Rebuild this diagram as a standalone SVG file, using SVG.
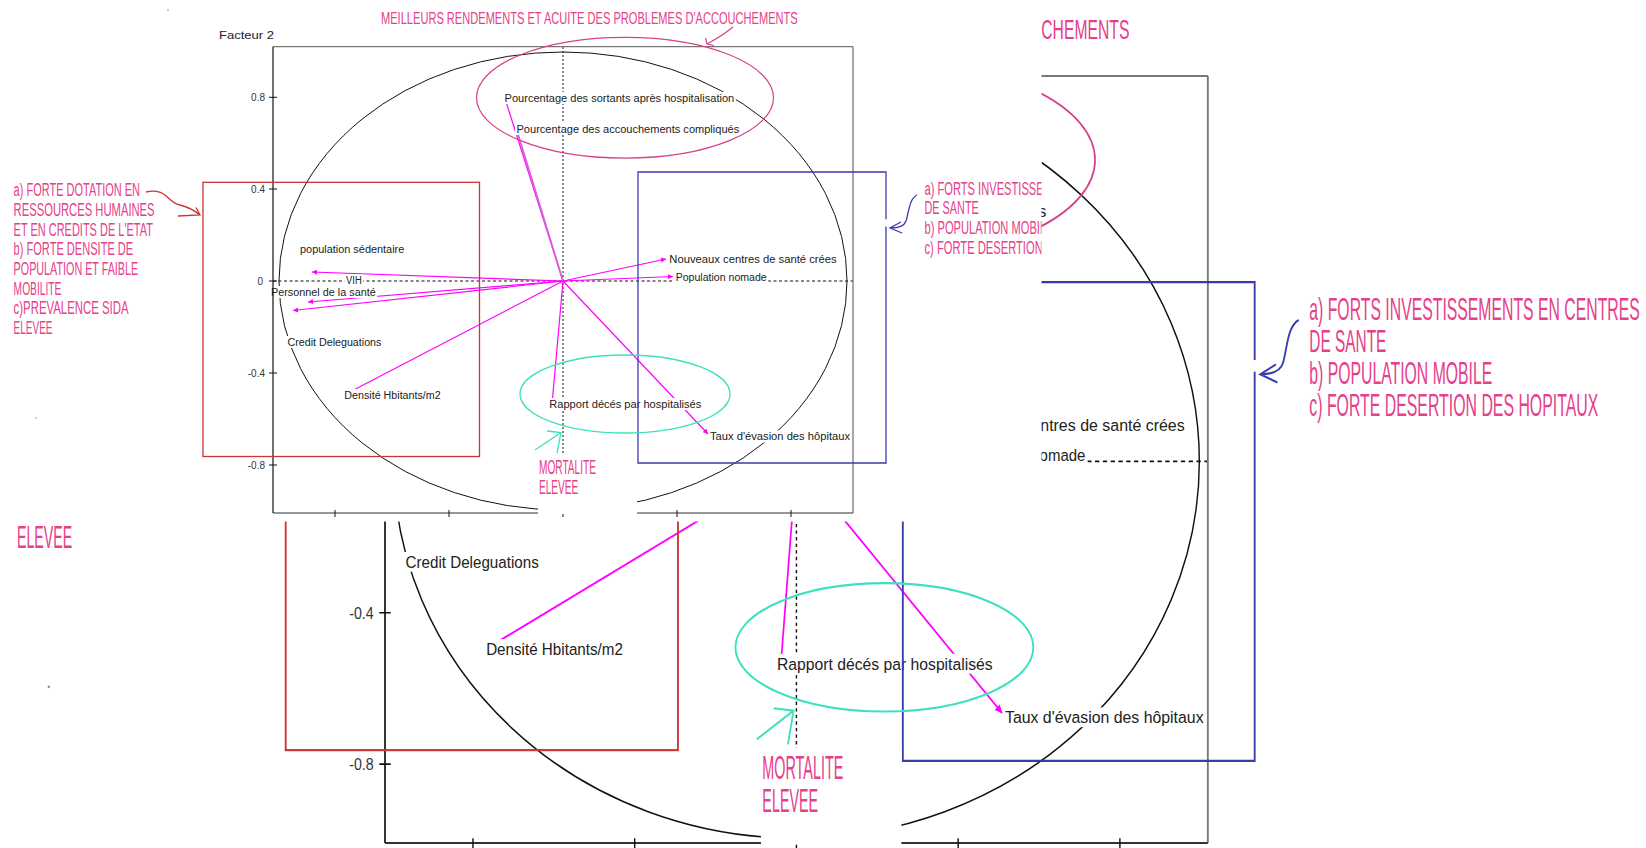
<svg xmlns="http://www.w3.org/2000/svg" xmlns:xlink="http://www.w3.org/1999/xlink" width="1646" height="848" viewBox="0 0 1646 848">
<defs>
<style>
.lbl{font-family:"Liberation Sans",Arial,sans-serif;font-size:10px;fill:#222}
.bg{fill:#fff}
.tk{font-family:"Liberation Sans",Arial,sans-serif;font-size:10px;fill:#333;text-anchor:end}
.ann{font-family:"Liberation Sans Narrow","Liberation Sans",Arial,sans-serif;font-size:19.2px;fill:#e6408a}
.vec{stroke:#f0f;stroke-width:1.2;fill:none;marker-end:url(#ah)}
.pk{stroke:#d8408c;fill:none;stroke-width:1.2}
.tl{stroke:#3de0bf;fill:none;stroke-width:1.3}
.bl{stroke:#3a3ab0;fill:none;stroke-width:1.3}
.rd{stroke:#cc3333;fill:none;stroke-width:1.3}
</style>
<marker id="ah" viewBox="0 0 10 10" refX="10" refY="5" markerWidth="6" markerHeight="5" orient="auto" markerUnits="userSpaceOnUse"><path d="M0,0 L10,5 L0,10 z" fill="#f0f"/></marker>
<clipPath id="ov"><rect x="0" y="0" width="1041.5" height="521.5"/></clipPath>
</defs>
<rect width="1646" height="848" fill="#fff"/>
<use href="#orig" xlink:href="#orig" transform="matrix(1.4187 0 0 1.645 -2.3 -0.8)"/>
<rect x="0" y="0" width="1041.5" height="521.5" fill="#fff"/>
<rect x="0" y="521" width="120" height="4" fill="#fff"/>
<g clip-path="url(#ov)">
<g id="orig">
<circle cx="168" cy="10" r="0.8" fill="#888"/>
<circle cx="36" cy="418" r="0.8" fill="#888"/>
<g id="axes">
<text x="219" y="39" class="lbl" style="font-size:11px" textLength="55" lengthAdjust="spacingAndGlyphs">Facteur 2</text>
<ellipse id="correlation-circle" cx="563" cy="281" rx="284" ry="229" fill="none" stroke="#111" stroke-width="1"/>
<line x1="563" y1="47" x2="563" y2="513" stroke="#111" stroke-dasharray="2,2"/>
<line x1="273" y1="281" x2="853" y2="281" stroke="#111" stroke-dasharray="3,2.5"/>
<line x1="273" y1="46.7" x2="853" y2="46.7" stroke="#777" stroke-width="1.3"/>
<line x1="853" y1="46.7" x2="853" y2="513" stroke="#777" stroke-width="1.3"/>
<line x1="273" y1="513" x2="853" y2="513" stroke="#333" stroke-width="1.2"/>
<path d="M269,97.3 H277 M269,189 H277 M269,281 H277 M269,373 H277 M269,465 H277 M335,510 V517 M449,510 V517 M563,510 V517 M677,510 V517 M791,510 V517" stroke="#111" stroke-width="1"/>
<text x="265" y="100.9" class="tk">0.8</text>
<text x="265" y="192.6" class="tk">0.4</text>
<text x="263" y="284.6" class="tk">0</text>
<text x="265" y="376.6" class="tk">-0.4</text>
<text x="265" y="468.6" class="tk">-0.8</text>
</g>
<g id="connectors">
<path class="vec" d="M563,281 L312,272"/>
<path class="vec" d="M563,281 L308,302"/>
<path class="vec" d="M563,281 L293,310.5"/>
<path class="vec" d="M563,281 L344,395"/>
<path class="vec" d="M563,281 L504.5,97"/>
<path class="vec" d="M563,281 L515.5,126" style="stroke:#d860d8;stroke-width:1.8"/>
<path class="vec" d="M563,281 L551.7,408"/>
<path class="vec" d="M563,281 L708,434"/>
<path class="vec" d="M563,281 L666,259"/>
<path class="vec" d="M563,281 L673,276.5"/>
</g>
<g id="n-sortants"><rect class="bg" x="503" y="92" width="232.8" height="12"/><text class="lbl" x="504.6" y="101.5" textLength="229.6" lengthAdjust="spacingAndGlyphs">Pourcentage des sortants après hospitalisation</text></g>
<g id="n-accouchements"><rect class="bg" x="515" y="123" width="225.7" height="12"/><text class="lbl" x="516.5" y="132.5" textLength="222.7" lengthAdjust="spacingAndGlyphs">Pourcentage des accouchements compliqués</text></g>
<g id="n-nouveaux"><rect class="bg" x="667.8" y="253" width="170.4" height="12"/><text class="lbl" x="669.3" y="262.5" textLength="167.4" lengthAdjust="spacingAndGlyphs">Nouveaux centres de santé crées</text></g>
<g id="n-nomade"><rect class="bg" x="674.2" y="271" width="94" height="12"/><text class="lbl" x="675.7" y="280.5" textLength="91" lengthAdjust="spacingAndGlyphs">Population nomade</text></g>
<g id="n-rapport"><rect class="bg" x="547.8" y="398" width="155" height="12"/><text class="lbl" x="549.3" y="407.5" textLength="152" lengthAdjust="spacingAndGlyphs">Rapport décés par hospitalisés</text></g>
<g id="n-taux"><rect class="bg" x="709" y="430.5" width="142.5" height="12"/><text class="lbl" x="710" y="440" textLength="140" lengthAdjust="spacingAndGlyphs">Taux d'évasion des hôpitaux</text></g>
<g id="n-sedentaire"><rect class="bg" x="298.5" y="243" width="107.3" height="12"/><text class="lbl" x="300" y="252.5" textLength="104.3" lengthAdjust="spacingAndGlyphs">population sédentaire</text></g>
<g id="n-vih"><rect class="bg" x="344.5" y="274.5" width="18.7" height="12"/><text class="lbl" x="346" y="284" textLength="15.7" lengthAdjust="spacingAndGlyphs">VIH</text></g>
<g id="n-personnel"><rect class="bg" x="274" y="286" width="103.2" height="12"/><text class="lbl" x="271" y="295.5" textLength="104.7" lengthAdjust="spacingAndGlyphs">Personnel de la santé</text></g>
<g id="n-credit"><rect class="bg" x="286" y="336" width="96.9" height="12"/><text class="lbl" x="287.5" y="345.5" textLength="93.9" lengthAdjust="spacingAndGlyphs">Credit Deleguations</text></g>
<g id="n-densite"><rect class="bg" x="342.8" y="389" width="99.4" height="12"/><text class="lbl" x="344.3" y="398.5" textLength="96.4" lengthAdjust="spacingAndGlyphs">Densité Hbitants/m2</text></g>
<line x1="273" y1="46.7" x2="273" y2="513" stroke="#111" stroke-width="1.2"/>
<g id="annotations">
<ellipse class="pk" cx="625" cy="97.7" rx="148.5" ry="60.4"/>
<path class="pk" d="M733,27 Q722,36 707,44 M705.5,38 L707,44 L714,45.5"/>
<rect class="rd" x="203" y="182.3" width="276.5" height="274.2"/>
<path class="rd" d="M146,192 C155,190 160,191 165,195 C170,199 172,203 180,205 C188,207 194,210 200,215 M178,216 L200,215 L196,207.5"/>
<path class="bl" d="M886,219.3 V172 H638 V463 H886 V226.5"/>
<path class="bl" d="M917,195 C909,199 909,212 906,221 C904,227 897,228 890,228 M901,222 L890,228 L902,233"/>
<ellipse class="tl" cx="625" cy="394" rx="105" ry="39"/>
<path class="tl" d="M535,450 L561,432.5 M547,431 L561,432.5 L557,453"/>
<text class="ann" x="381" y="24.3" style="font-size:16.5px" textLength="416.7" lengthAdjust="spacingAndGlyphs">MEILLEURS RENDEMENTS ET ACUITE DES PROBLEMES D'ACCOUCHEMENTS</text>
<text class="ann" x="13.6" y="195.8" textLength="126.4" lengthAdjust="spacingAndGlyphs">a) FORTE DOTATION EN</text>
<text class="ann" x="13.6" y="215.5" textLength="141" lengthAdjust="spacingAndGlyphs">RESSOURCES HUMAINES</text>
<text class="ann" x="13.6" y="235.5" textLength="139.3" lengthAdjust="spacingAndGlyphs">ET EN CREDITS DE L'ETAT</text>
<text class="ann" x="13.6" y="254.8" textLength="119.6" lengthAdjust="spacingAndGlyphs">b) FORTE DENSITE DE</text>
<text class="ann" x="13.6" y="274.8" textLength="124.6" lengthAdjust="spacingAndGlyphs">POPULATION ET FAIBLE</text>
<text class="ann" x="13.6" y="294.5" textLength="47.8" lengthAdjust="spacingAndGlyphs">MOBILITE</text>
<text class="ann" x="13.6" y="314.1" textLength="115" lengthAdjust="spacingAndGlyphs">c)PREVALENCE SIDA</text>
<text class="ann" x="13.6" y="333.5" textLength="38.9" lengthAdjust="spacingAndGlyphs">ELEVEE</text>
<text class="ann" x="924.5" y="194.9" style="font-size:18.8px" textLength="233" lengthAdjust="spacingAndGlyphs">a) FORTS INVESTISSEMENTS EN CENTRES</text>
<text class="ann" x="924.5" y="214.3" style="font-size:18.8px" textLength="54.3" lengthAdjust="spacingAndGlyphs">DE SANTE</text>
<text class="ann" x="924.5" y="234" style="font-size:18.8px" textLength="129" lengthAdjust="spacingAndGlyphs">b) POPULATION MOBILE</text>
<text class="ann" x="924.5" y="253.5" style="font-size:18.8px" textLength="203.7" lengthAdjust="spacingAndGlyphs">c) FORTE DESERTION DES HOPITAUX</text>
<rect x="538" y="455" width="99" height="59" fill="#fff"/>
<text class="ann" x="539" y="474.3" style="font-size:19.8px" textLength="57" lengthAdjust="spacingAndGlyphs">MORTALITE</text>
<text class="ann" x="539" y="494.3" style="font-size:19.8px" textLength="39.3" lengthAdjust="spacingAndGlyphs">ELEVEE</text>
</g>
</g>
</g>
</svg>
